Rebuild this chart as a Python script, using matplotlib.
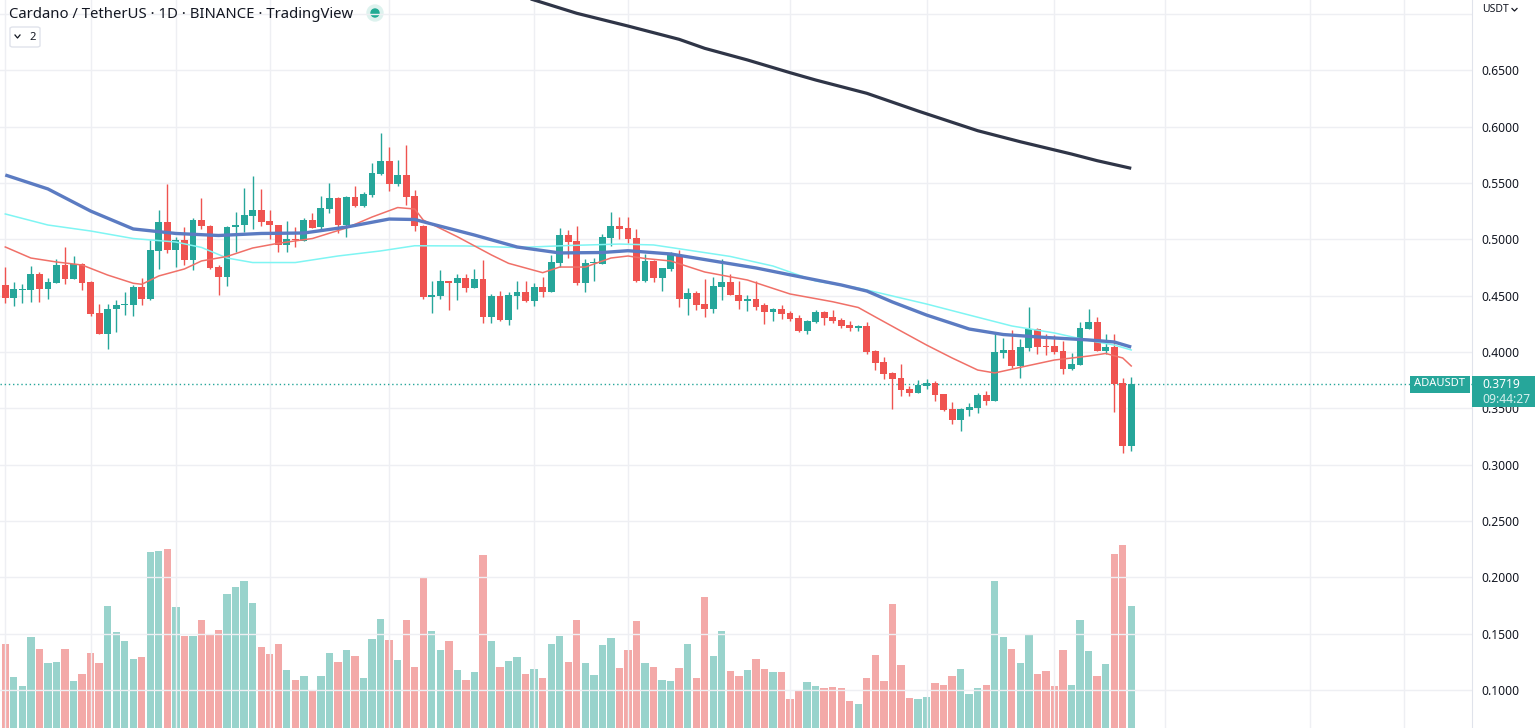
import numpy as np
import matplotlib
matplotlib.use("Agg")
import matplotlib.pyplot as plt
from matplotlib.patches import Rectangle, Circle, FancyBboxPatch
from matplotlib.lines import Line2D
from matplotlib.transforms import IdentityTransform

# daily ADA/USDT candles, oldest first
opens = [0.4595, 0.4482, 0.4552, 0.4553, 0.4692, 0.4562, 0.4616, 0.4772, 0.4651, 0.4778,
         0.4621, 0.4346, 0.4162, 0.4379, 0.4417, 0.4414, 0.4574, 0.4472, 0.4899, 0.5154,
         0.4908, 0.4994, 0.4819, 0.5172, 0.5121, 0.4754, 0.4666, 0.5107, 0.5127, 0.5210,
         0.5260, 0.5163, 0.5127, 0.4952, 0.5003, 0.4985, 0.5172, 0.5109, 0.5269, 0.5367,
         0.5124, 0.5376, 0.5298, 0.5396, 0.5580, 0.5695, 0.5494, 0.5571, 0.5385, 0.5121,
         0.4490, 0.4500, 0.4628, 0.4612, 0.4657, 0.4571, 0.4648, 0.4313, 0.4497, 0.4284,
         0.4500, 0.4533, 0.4453, 0.4577, 0.4533, 0.4793, 0.5038, 0.4985, 0.4616, 0.4787,
         0.4784, 0.5014, 0.5121, 0.5100, 0.5011, 0.4633, 0.4811, 0.4660, 0.4737, 0.4861,
         0.4473, 0.4524, 0.4426, 0.4384, 0.4577, 0.4621, 0.4506, 0.4455, 0.4471, 0.4414,
         0.4358, 0.4382, 0.4346, 0.4302, 0.4186, 0.4266, 0.4355, 0.4311, 0.4284, 0.4240,
         0.4213, 0.4231, 0.4009, 0.3911, 0.3814, 0.3770, 0.3672, 0.3639, 0.3698, 0.3725,
         0.3627, 0.3494, 0.3397, 0.3485, 0.3503, 0.3619, 0.3565, 0.3991, 0.4018, 0.3875,
         0.4036, 0.4204, 0.4055, 0.4053, 0.4009, 0.3849, 0.3885, 0.4204, 0.4266, 0.4009,
         0.4045, 0.3725, 0.3166]
highs = [0.4757, 0.4621, 0.4604, 0.4763, 0.4713, 0.4654, 0.4825, 0.4932, 0.4852, 0.4787,
         0.4634, 0.4426, 0.4426, 0.4462, 0.4533, 0.4592, 0.4657, 0.4994, 0.5260, 0.5494,
         0.5021, 0.5107, 0.5187, 0.5367, 0.5124, 0.4775, 0.5121, 0.5242, 0.5456, 0.5562,
         0.5447, 0.5260, 0.5130, 0.5163, 0.5107, 0.5187, 0.5234, 0.5385, 0.5500, 0.5373,
         0.5381, 0.5474, 0.5420, 0.5680, 0.5944, 0.5820, 0.5704, 0.5837, 0.5438, 0.5124,
         0.4628, 0.4728, 0.4631, 0.4695, 0.4692, 0.4737, 0.4816, 0.4515, 0.4541, 0.4533,
         0.4628, 0.4628, 0.4616, 0.4665, 0.4861, 0.5100, 0.5080, 0.5121, 0.4825, 0.4834,
         0.5047, 0.5242, 0.5198, 0.5198, 0.5092, 0.4870, 0.4816, 0.4748, 0.4887, 0.4905,
         0.4568, 0.4541, 0.4648, 0.4665, 0.4825, 0.4692, 0.4630, 0.4506, 0.4630, 0.4435,
         0.4390, 0.4417, 0.4364, 0.4331, 0.4284, 0.4373, 0.4364, 0.4373, 0.4302, 0.4276,
         0.4240, 0.4266, 0.4018, 0.3956, 0.3822, 0.3894, 0.3698, 0.3752, 0.3761, 0.3743,
         0.3630, 0.3556, 0.3503, 0.3547, 0.3636, 0.3654, 0.4177, 0.4124, 0.4195, 0.4115,
         0.4399, 0.4213, 0.4160, 0.4151, 0.4098, 0.3991, 0.4266, 0.4382, 0.4311, 0.4160,
         0.4160, 0.3770, 0.3780]
lows = [0.4432, 0.4411, 0.4438, 0.4446, 0.4446, 0.4473, 0.4614, 0.4604, 0.4649, 0.4553,
        0.4322, 0.4160, 0.4029, 0.4174, 0.4331, 0.4322, 0.4420, 0.4464, 0.4739, 0.4876,
        0.4757, 0.4775, 0.4730, 0.5094, 0.4739, 0.4510, 0.4589, 0.4890, 0.5068, 0.5093,
        0.5115, 0.5006, 0.4887, 0.4887, 0.4934, 0.4983, 0.5100, 0.5074, 0.5236, 0.5059,
        0.5024, 0.5284, 0.5290, 0.5373, 0.5574, 0.5432, 0.5477, 0.5302, 0.5077, 0.4467,
        0.4349, 0.4473, 0.4373, 0.4464, 0.4536, 0.4568, 0.4260, 0.4260, 0.4276, 0.4243,
        0.4384, 0.4446, 0.4411, 0.4490, 0.4530, 0.4757, 0.4830, 0.4598, 0.4533, 0.4630,
        0.4781, 0.4943, 0.5006, 0.4965, 0.4619, 0.4624, 0.4624, 0.4544, 0.4721, 0.4399,
        0.4331, 0.4373, 0.4311, 0.4349, 0.4464, 0.4508, 0.4382, 0.4364, 0.4373, 0.4249,
        0.4276, 0.4296, 0.4279, 0.4177, 0.4160, 0.4257, 0.4240, 0.4257, 0.4213, 0.4186,
        0.4186, 0.3982, 0.3840, 0.3763, 0.3497, 0.3609, 0.3609, 0.3636, 0.3670, 0.3565,
        0.3476, 0.3361, 0.3302, 0.3432, 0.3459, 0.3530, 0.3562, 0.3947, 0.3862, 0.3773,
        0.4009, 0.3982, 0.3973, 0.3982, 0.3805, 0.3840, 0.3882, 0.4201, 0.4006, 0.3982,
        0.3468, 0.3104, 0.3121]
closes = [0.4482, 0.4556, 0.4558, 0.4692, 0.4562, 0.4619, 0.4772, 0.4651, 0.4781, 0.4616,
          0.4340, 0.4162, 0.4379, 0.4417, 0.4420, 0.4580, 0.4472, 0.4905, 0.5154, 0.4908,
          0.4994, 0.4819, 0.5172, 0.5115, 0.4749, 0.4666, 0.5107, 0.5127, 0.5216, 0.5260,
          0.5154, 0.5124, 0.4952, 0.5003, 0.4991, 0.5172, 0.5103, 0.5278, 0.5367, 0.5124,
          0.5376, 0.5298, 0.5402, 0.5589, 0.5695, 0.5494, 0.5571, 0.5379, 0.5115, 0.4490,
          0.4506, 0.4628, 0.4612, 0.4657, 0.4571, 0.4648, 0.4313, 0.4497, 0.4284, 0.4506,
          0.4533, 0.4453, 0.4577, 0.4533, 0.4799, 0.5038, 0.4979, 0.4616, 0.4790, 0.4793,
          0.5021, 0.5121, 0.5094, 0.5006, 0.4633, 0.4808, 0.4660, 0.4745, 0.4872, 0.4473,
          0.4524, 0.4420, 0.4384, 0.4586, 0.4621, 0.4510, 0.4455, 0.4471, 0.4402, 0.4358,
          0.4382, 0.4337, 0.4296, 0.4186, 0.4276, 0.4355, 0.4302, 0.4276, 0.4231, 0.4213,
          0.4231, 0.4000, 0.3902, 0.3808, 0.3763, 0.3666, 0.3639, 0.3707, 0.3725, 0.3619,
          0.3485, 0.3397, 0.3494, 0.3512, 0.3619, 0.3565, 0.4000, 0.4018, 0.3875, 0.4045,
          0.4204, 0.4045, 0.4043, 0.4000, 0.3849, 0.3894, 0.4213, 0.4266, 0.4009, 0.4045,
          0.3716, 0.3166, 0.3719]
# volume in millions ADA
volumes = [84, 51, 42, 91, 79, 65, 66, 79, 47, 54,
           75, 65, 122, 96, 87, 69, 71, 176, 177, 179,
           121, 92, 92, 108, 93, 98, 134, 141, 147, 125,
           81, 74, 84, 58, 48, 52, 37, 52, 75, 66,
           78, 72, 50, 89, 109, 88, 68, 108, 61, 151,
           97, 78, 87, 58, 48, 56, 173, 87, 61, 67,
           71, 54, 59, 50, 84, 92, 66, 108, 65, 53,
           83, 90, 60, 78, 107, 65, 61, 48, 47, 60,
           84, 50, 131, 72, 97, 57, 52, 58, 69, 59,
           56, 56, 29, 37, 46, 42, 40, 41, 40, 27,
           24, 50, 73, 47, 124, 63, 30, 29, 31, 45,
           43, 52, 59, 34, 40, 43, 147, 91, 79, 65,
           93, 54, 57, 42, 78, 43, 108, 77, 52, 64,
           174, 183, 122]

# moving averages read at selected candles
ma_fast_idx = [0, 3, 6, 9, 12, 15, 16, 18, 21, 23, 26, 29, 32, 36, 40, 43, 46, 48, 49, 53,
               57, 59, 63, 65, 68, 71, 73, 75, 78, 82, 87, 92, 97, 100, 102, 105, 108, 111,
               114, 116, 119, 123, 127, 129, 131, 132]
ma_fast = [0.4932, 0.4834, 0.4799, 0.4772, 0.4683, 0.4610, 0.4601, 0.4675, 0.4737, 0.4808,
           0.4848, 0.4923, 0.4965, 0.5007, 0.5101, 0.5198, 0.5282, 0.5269, 0.5171, 0.5023,
           0.4861, 0.4787, 0.4704, 0.4754, 0.4754, 0.4834, 0.4852, 0.4830, 0.4808, 0.4710,
           0.4639, 0.4515, 0.4446, 0.4395, 0.4311, 0.4186, 0.4062, 0.3947, 0.3840, 0.3814,
           0.3864, 0.3929, 0.3964, 0.3987, 0.3947, 0.3876]
ma_mid_idx = [0, 5, 10, 15, 20, 25, 30, 35, 40, 45, 48, 50, 55, 60, 65, 70, 73, 78, 83, 88,
              93, 98, 101, 104, 108, 113, 117, 122, 127, 130, 132]
ma_mid = [0.5571, 0.5447, 0.5251, 0.5092, 0.5052, 0.5034, 0.5052, 0.5056, 0.5109, 0.5180,
          0.5176, 0.5136, 0.5038, 0.4932, 0.4879, 0.4883, 0.4899, 0.4870, 0.4808, 0.4746,
          0.4670, 0.4595, 0.4541, 0.4444, 0.4328, 0.4204, 0.4155, 0.4129, 0.4107, 0.4089,
          0.4044]
ma_slow_idx = [0, 5, 10, 15, 20, 23, 26, 29, 34, 39, 44, 48, 54, 60, 66, 72, 76, 80, 85, 90,
               95, 100, 103, 108, 113, 118, 123, 127, 130, 132]
ma_slow = [0.5225, 0.5127, 0.5074, 0.5007, 0.4976, 0.4928, 0.4834, 0.4794, 0.4794, 0.4852,
           0.4897, 0.4943, 0.4941, 0.4927, 0.4945, 0.4958, 0.4950, 0.4905, 0.4848, 0.4763,
           0.4630, 0.4568, 0.4515, 0.4426, 0.4328, 0.4231, 0.4169, 0.4102, 0.4062, 0.4018]
ma_long_idx = [60, 62, 67, 73, 79, 82, 87, 92, 95, 101, 107, 114, 119, 125, 128, 132]
ma_long = [0.7168, 0.7124, 0.7006, 0.6893, 0.6775, 0.6695, 0.6592, 0.6479, 0.6414, 0.6296,
           0.6139, 0.5964, 0.5866, 0.5757, 0.5698, 0.5630]

last_price = 0.3719
price_ticks = [0.10, 0.15, 0.20, 0.25, 0.30, 0.35, 0.40, 0.45, 0.50, 0.55, 0.60, 0.65]
grid_days = [0, 10, 20, 31, 45, 62, 73, 92, 108, 123, 136, 153, 164]

W, H = 1540, 728
UP, DOWN = '#26a69a', '#ef5350'
UP_VOL, DOWN_VOL = '#99d3cc', '#f3a9a8'

fig = plt.figure(figsize=(W / 100, H / 100), dpi=100, facecolor='white')
ax = fig.add_axes([0, 0, 1472 / W, 1])
axv = ax.twinx()
ax.set_zorder(axv.get_zorder() + 1)
ax.patch.set_visible(False)

x = np.arange(len(closes))
o = np.array(opens)
c = np.array(closes)
up = c >= o

# volume pane (own scale, drawn behind the candles)
axv.bar(x, volumes, width=0.86, color=np.where(up, UP_VOL, DOWN_VOL), linewidth=0)
axv.set_ylim(0, 728)
axv.set_yticks([])
for s in axv.spines.values():
    s.set_visible(False)

# grid
for p in price_ticks + [0.70]:
    ax.axhline(p, color='#eeeff3', lw=1, zorder=0)
for d in grid_days:
    ax.axvline(d, color='#eeeff3', lw=1, zorder=0)

# candles
ax.vlines(x, lows, highs, colors=np.where(up, UP, DOWN), lw=1, zorder=3)
body = np.maximum(np.abs(c - o), 0.0009)
ax.bar(x, body, bottom=np.minimum(o, c), width=0.8, color=np.where(up, UP, DOWN),
       linewidth=0, zorder=4)

# moving averages
ax.plot(ma_long_idx, ma_long, color='#2f3547', lw=2.3, zorder=5, solid_capstyle='butt')
ax.plot(ma_slow_idx, ma_slow, color='#7ff5f3', lw=1.1, zorder=5)
ax.plot(ma_fast_idx, ma_fast, color='#f07068', lw=1.1, zorder=5)
ax.plot(ma_mid_idx, ma_mid, color='#5b7bc2', lw=2.4, zorder=6, solid_capstyle='butt')

# last price line
ax.axhline(last_price, color=UP, lw=1, ls=(0, (1, 2)), zorder=2)

ax.set_xlim(-0.62, 171.95)
ax.set_ylim(0.0663, 0.7124)
ax.set_xticks([])
ax.yaxis.tick_right()
ax.set_yticks(price_ticks)
ax.set_yticklabels(['%.4f' % p for p in price_ticks])
ax.tick_params(axis='y', length=0, pad=6.5, labelsize=8.7, labelcolor='#131722')
for lbl in ax.get_yticklabels():
    lbl.set_family('Noto Sans')
for k, s in ax.spines.items():
    s.set_visible(k == 'right')
ax.spines['right'].set_color('#e0e3eb')


def fx(px):
    return px / W


def fy(py):
    return 1 - py / H


# header
fig.text(fx(9), fy(14), 'Cardano / TetherUS · 1D · BINANCE · TradingView', fontsize=10.7,
         color='#131722', family='Noto Sans', va='center', ha='left')
fig.add_artist(Circle((375, H - 13), 8, color='#ddf2ee', transform=IdentityTransform()))
fig.add_artist(Circle((375, H - 13), 4, color='#22ab94', transform=IdentityTransform()))
fig.add_artist(FancyBboxPatch((fx(10), fy(47)), fx(30), 20 / H,
                              boxstyle='round,pad=0,rounding_size=0.002',
                              fc='white', ec='#e0e3eb', lw=1, transform=fig.transFigure))
fig.add_artist(Line2D([fx(15), fx(17.5), fx(20)], [fy(35), fy(38), fy(35)],
                      color='#131722', lw=0.9, transform=fig.transFigure))
fig.text(fx(29), fy(37.5), '2', fontsize=8, color='#131722', family='Noto Sans',
         va='center', ha='left')

# axis unit
fig.text(fx(1482), fy(10), 'USDT', fontsize=7.5, color='#131722', family='Noto Sans',
         va='center', ha='left')
fig.add_artist(Line2D([fx(1512), fx(1514.5), fx(1517)], [fy(8.5), fy(11), fy(8.5)],
                      color='#131722', lw=0.9, transform=fig.transFigure))

# last price labels
fig.add_artist(Rectangle((fx(1410), fy(392.5)), fx(60), 16.5 / H, fc=UP, ec='none',
                         transform=fig.transFigure, zorder=5))
fig.text(fx(1440), fy(384), 'ADAUSDT', fontsize=8, color='white', weight='bold',
         family='Noto Sans', va='center', ha='center', zorder=6)
fig.add_artist(Rectangle((fx(1472), fy(407)), fx(63), 31 / H, fc=UP, ec='none',
                         transform=fig.transFigure, zorder=5))
fig.text(fx(1482), fy(384), '%.4f' % last_price, fontsize=8.7, color='white', weight='bold',
         family='Noto Sans', va='center', ha='left', zorder=6)
fig.text(fx(1482), fy(399), '09:44:27', fontsize=8.7, color='#d6f0ed',
         family='Noto Sans', va='center', ha='left', zorder=6)

fig.savefig('out.png', dpi=100, facecolor='white')
